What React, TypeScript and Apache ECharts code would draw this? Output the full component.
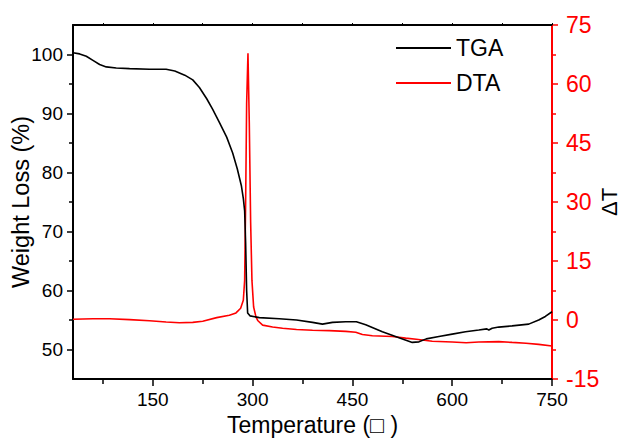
import React, { useEffect, useRef } from "react";
import * as echarts from "echarts";

// TGA (weight loss %, left axis)
const tgaTemp = [30, 40, 50, 60, 70, 80, 95, 115, 145, 170, 183, 198, 210, 220, 231, 240, 250, 261, 270, 277, 283, 286, 288, 289.5, 291, 292.5, 296, 310, 340, 366, 390, 405, 420, 440, 456, 470, 495, 520, 540, 550, 561, 580, 600, 620, 640, 652, 655, 660, 670, 690, 715, 730, 740, 750];
const tgaValues = [100.3, 100.1, 99.7, 99.0, 98.3, 97.9, 97.7, 97.6, 97.5, 97.5, 97.2, 96.5, 95.7, 94.4, 92.5, 90.7, 88.5, 86.0, 83.3, 80.6, 77.8, 75.6, 73.5, 68, 60, 56.2, 55.7, 55.4, 55.2, 55.0, 54.6, 54.3, 54.6, 54.7, 54.7, 54.2, 53.0, 52.0, 51.2, 51.3, 51.8, 52.2, 52.6, 53.0, 53.3, 53.5, 53.3, 53.6, 53.8, 54.0, 54.3, 55.0, 55.6, 56.4];

// DTA (ΔT, right axis)
const dtaTemp = [30, 60, 85, 115, 145, 170, 190, 210, 225, 246, 265, 275, 282, 286, 288, 289.5, 291, 293, 295, 297, 299, 301.5, 305, 308, 315, 330, 345, 366, 390, 415, 440, 455, 465, 480, 510, 530, 546, 570, 600, 621, 640, 670, 690, 711, 730, 750];
const dtaValues = [0.2, 0.3, 0.3, 0.1, -0.2, -0.5, -0.7, -0.6, -0.3, 0.6, 1.2, 1.8, 3.0, 5.0, 10, 30, 55, 67.8, 50, 25, 10, 3.3, 0.8, -0.2, -1.3, -1.8, -2.1, -2.4, -2.6, -2.7, -2.9, -3.1, -3.7, -4.0, -4.2, -4.6, -4.9, -5.4, -5.6, -5.8, -5.6, -5.5, -5.7, -5.9, -6.2, -6.6];

// Tick values
const xMajor = [150, 300, 450, 600, 750];
const xMinor = [75, 225, 375, 525, 675];
const xTop = [75, 150, 225, 300, 375, 450, 525, 600, 675, 750];
const leftMajor = [50, 60, 70, 80, 90, 100];
const leftMinor = [55, 65, 75, 85, 95];
const rightMajor = [-15, 0, 15, 30, 45, 60, 75];
const rightMinor = [-7.5, 7.5, 22.5, 37.5, 52.5, 67.5];

const FONT = "Liberation Sans, Arial, sans-serif";
const RED = "#ff0000";

export default function App() {
  const ref = useRef<HTMLDivElement>(null);
  useEffect(() => {
    if (!ref.current) return;
    const chart = echarts.init(ref.current, undefined, { renderer: "svg" });
    const hidden = { show: false };
    chart.setOption({
      animation: false,
      backgroundColor: "#ffffff",
      textStyle: { fontFamily: FONT },
      grid: { left: 73, right: 70, top: 25, bottom: 59, containLabel: false, outerBoundsMode: "none" },
      legend: {
        orient: "vertical",
        left: 396,
        top: 35,
        padding: 0,
        itemWidth: 55,
        itemHeight: 2,
        itemGap: 9,
        icon: "rect",
        data: [
          { name: "TGA", itemStyle: { color: "#000" } },
          { name: "DTA", itemStyle: { color: RED } },
        ],
        textStyle: { fontSize: 23, color: "#000", fontFamily: FONT, lineHeight: 26 },
      },
      xAxis: [
        {
          type: "value",
          min: 30,
          max: 750,
          position: "bottom",
          name: "Temperature (□ )",
          nameLocation: "middle",
          nameGap: 30,
          nameTextStyle: { fontSize: 23, color: "#000", fontFamily: FONT },
          axisLine: { show: true, onZero: false, lineStyle: { color: "#000", width: 2 } },
          axisTick: { show: true, length: 7, customValues: xMajor, lineStyle: { color: "#000", width: 1.5 } },
          axisLabel: { customValues: xMajor, fontSize: 19, color: "#000", margin: 11, fontFamily: FONT },
          splitLine: hidden,
        },
        {
          type: "value",
          min: 30,
          max: 750,
          position: "bottom",
          axisLine: { show: false, onZero: false },
          axisTick: { show: true, length: 5, customValues: xMinor, lineStyle: { color: "#000", width: 1.5 } },
          axisLabel: hidden,
          splitLine: hidden,
        },
        {
          type: "value",
          min: 30,
          max: 750,
          position: "top",
          axisLine: { show: true, onZero: false, lineStyle: { color: "#000", width: 2 } },
          axisTick: { show: true, length: 2, customValues: xTop, lineStyle: { color: "#000", width: 1 } },
          axisLabel: hidden,
          splitLine: hidden,
        },
      ],
      yAxis: [
        {
          type: "value",
          min: 45,
          max: 105,
          position: "left",
          name: "Weight Loss (%)",
          nameLocation: "middle",
          nameGap: 40,
          nameMoveOverlap: false,
          nameRotate: 90,
          nameTextStyle: { fontSize: 23.5, color: "#000", fontFamily: FONT },
          axisLine: { show: true, onZero: false, lineStyle: { color: "#000", width: 2 } },
          axisTick: { show: true, length: 6, customValues: leftMajor, lineStyle: { color: "#000", width: 1.5 } },
          axisLabel: { customValues: leftMajor, fontSize: 19, color: "#000", margin: 10, fontFamily: FONT },
          splitLine: hidden,
        },
        {
          type: "value",
          min: 45,
          max: 105,
          position: "left",
          axisLine: { show: false, onZero: false },
          axisTick: { show: true, length: 4, customValues: leftMinor, lineStyle: { color: "#000", width: 1.5 } },
          axisLabel: hidden,
          splitLine: hidden,
        },
        {
          type: "value",
          min: -15,
          max: 75,
          position: "right",
          name: "ΔT",
          nameLocation: "middle",
          nameGap: 46,
          nameMoveOverlap: false,
          nameRotate: 90,
          nameTextStyle: { fontSize: 22, color: "#000", fontFamily: FONT },
          axisLine: { show: true, onZero: false, lineStyle: { color: RED, width: 2 } },
          axisTick: { show: true, length: 6, customValues: rightMajor, lineStyle: { color: RED, width: 1.5 } },
          axisLabel: { customValues: rightMajor, fontSize: 23, color: RED, margin: 14, fontFamily: FONT },
          splitLine: hidden,
        },
        {
          type: "value",
          min: -15,
          max: 75,
          position: "right",
          axisLine: { show: false, onZero: false },
          axisTick: { show: true, length: 4, customValues: rightMinor, lineStyle: { color: RED, width: 1.5 } },
          axisLabel: hidden,
          splitLine: hidden,
        },
      ],
      series: [
        {
          name: "TGA",
          type: "line",
          xAxisIndex: 0,
          yAxisIndex: 0,
          symbol: "none",
          lineStyle: { color: "#000", width: 1.6 },
          itemStyle: { color: "#000" },
          data: tgaTemp.map((t, i) => [t, tgaValues[i]]),
          z: 3,
        },
        {
          name: "DTA",
          type: "line",
          xAxisIndex: 0,
          yAxisIndex: 2,
          symbol: "none",
          lineStyle: { color: RED, width: 1.6 },
          itemStyle: { color: RED },
          data: dtaTemp.map((t, i) => [t, dtaValues[i]]),
          z: 2,
        },
      ],
    });
    return () => chart.dispose();
  }, []);
  return (
    <div
      ref={ref}
      style={{ position: "fixed", left: 0, top: 0, width: 622, height: 438, background: "#fff" }}
    />
  );
}
